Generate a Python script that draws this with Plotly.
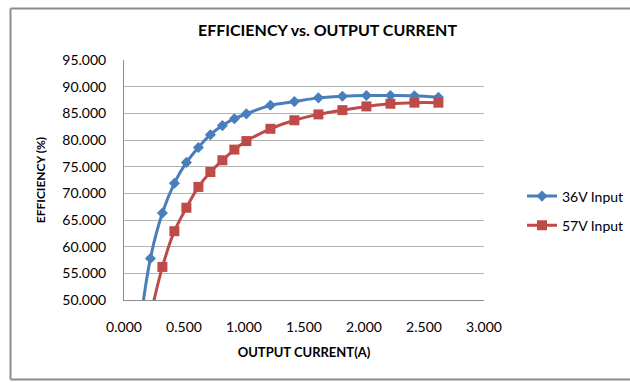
import plotly.graph_objects as go

# Data
current_36v = [0.12, 0.22, 0.32, 0.42, 0.52, 0.62, 0.72, 0.82, 0.92, 1.02,
               1.22, 1.42, 1.62, 1.82, 2.02, 2.22, 2.42, 2.62]
eff_36v = [43.0, 57.8, 66.3, 71.9, 75.8, 78.6, 81.0, 82.7, 84.0, 84.9,
           86.5, 87.2, 87.9, 88.2, 88.35, 88.35, 88.3, 88.0]

current_57v = [0.22, 0.32, 0.42, 0.52, 0.62, 0.72, 0.82, 0.92, 1.02,
               1.22, 1.42, 1.62, 1.82, 2.02, 2.22, 2.42, 2.62]
eff_57v = [47.0, 56.2, 62.9, 67.3, 71.2, 74.0, 76.2, 78.2, 79.8,
           82.1, 83.7, 84.8, 85.6, 86.3, 86.8, 87.0, 87.0]

series_names = ["36V Input", "57V Input"]
x_ticks = [0.0, 0.5, 1.0, 1.5, 2.0, 2.5, 3.0]
y_ticks = [50, 55, 60, 65, 70, 75, 80, 85, 90, 95]

BLUE = "#4A7EBB"
RED = "#BE4B48"
FONT = "Lato"

fig = go.Figure()
fig.add_trace(go.Scatter(
    x=current_36v, y=eff_36v, name=series_names[0], legendgroup="a",
    mode="lines+markers", line=dict(color=BLUE, width=3, shape="spline", smoothing=1.0),
    marker=dict(symbol="diamond", size=8.5, color=BLUE)))
fig.add_trace(go.Scatter(
    x=current_57v, y=eff_57v, name=series_names[1], legendgroup="b",
    mode="lines+markers", line=dict(color=RED, width=3, shape="spline", smoothing=1.0),
    marker=dict(symbol="square", size=10, color=RED)))

W, H = 630, 383
L, R, T, B = 124, 146, 60, 83

fig.update_layout(
    width=W, height=H,
    margin=dict(l=L, r=R, t=T, b=B, pad=0),
    paper_bgcolor="white", plot_bgcolor="white",
    font=dict(family=FONT, size=14, color="#000000"),
    title=dict(text="<b>EFFICIENCY vs. OUTPUT CURRENT</b>", x=327.5 / W, xanchor="center",
               y=1 - 30 / H, yanchor="middle", font=dict(family=FONT, size=16)),
    xaxis=dict(range=[0, 3], tickvals=x_ticks, tickformat=".3f", showgrid=False,
               showline=True, linecolor="#8c8c8c", linewidth=1, zeroline=False,
               ticks="", ticklabelstandoff=14, tickfont=dict(family=FONT, size=14),
               title=dict(text="<b>OUTPUT CURRENT(A)</b>", standoff=14,
                          font=dict(family=FONT, size=13))),
    yaxis=dict(range=[50, 95], tickvals=y_ticks, tickformat=".3f", showgrid=True,
               gridcolor="#b3b3b3", gridwidth=1, showline=True, linecolor="#8c8c8c",
               linewidth=1, zeroline=False, ticks="", ticklabelstandoff=14,
               tickfont=dict(family=FONT, size=14),
               title=dict(text="<b>EFFICIENCY (%)</b>", standoff=14,
                          font=dict(family=FONT, size=12))),
    legend=dict(xref="container", yref="container", x=522 / W, xanchor="left",
                y=1 - 211 / H, yanchor="middle", tracegroupgap=8,
                font=dict(family=FONT, size=14), bgcolor="rgba(0,0,0,0)"),
    showlegend=True,
)

pw, ph = W - L - R, H - T - B
def px_x(p):
    return (p - L) / pw
def px_y(p):
    return (H - B - p) / ph

border = dict(color="#8c8c8c", width=2)
# left, top, bottom edges of the chart frame (right edge lies outside the picture)
fig.add_shape(type="line", xref="paper", yref="paper",
              x0=px_x(10.5), x1=px_x(10.5), y0=px_y(8.5), y1=px_y(379.5), line=border)
fig.add_shape(type="line", xref="paper", yref="paper",
              x0=px_x(10.5), x1=px_x(W + 5), y0=px_y(8.5), y1=px_y(8.5), line=border)
fig.add_shape(type="line", xref="paper", yref="paper",
              x0=px_x(10.5), x1=px_x(W + 5), y0=px_y(379.5), y1=px_y(379.5), line=border)

fig.write_html("out.html")
